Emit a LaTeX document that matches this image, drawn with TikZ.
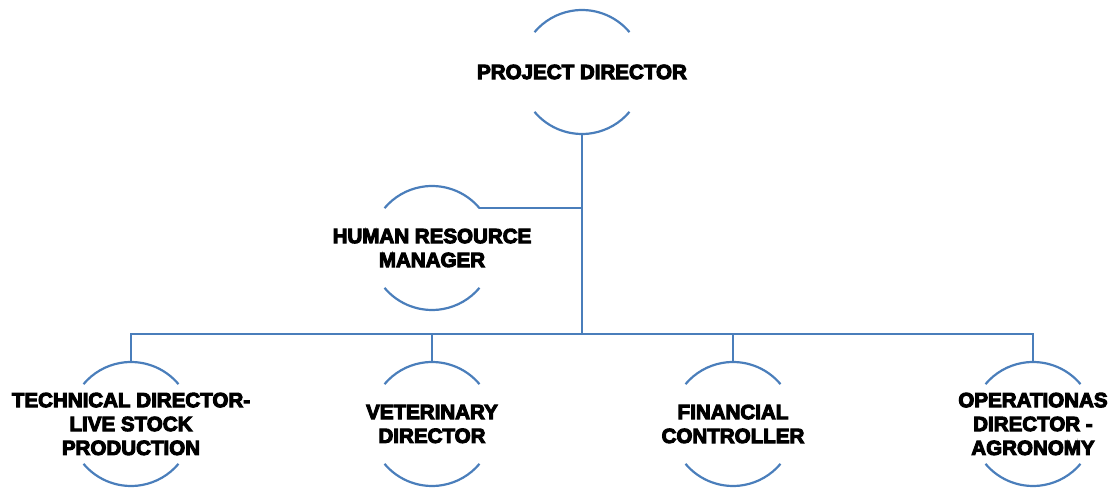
\documentclass[tikz,border=0pt]{standalone}
\usepackage{fontspec}
\usepackage{xcolor}
\newfontfamily\heavy{Liberation Sans}[BoldFeatures={FakeBold=5}]
\definecolor{ringblue}{HTML}{4A7EBB}
\usetikzlibrary{positioning}

% two open arcs round a label, plus handy coordinates
\newcommand{\bubble}[1]{%
  \draw[ring] (#1.center) ++(40:\rr) coordinate (#1-ne) arc[start angle=40, end angle=140, radius=\rr];
  \draw[ring] (#1.center) ++(220:\rr) arc[start angle=220, end angle=320, radius=\rr];
  \path (#1.center) ++(0,\rr) coordinate (#1-top);
  \path (#1.center) ++(0,-\rr) coordinate (#1-bot);
}
\def\rr{62}

\begin{document}
\begin{tikzpicture}[
			x=0.02cm, y=0.02cm,
			ring/.style={draw=ringblue, line width=1.25pt},
			link/.style={draw=ringblue, line width=1.25pt},
			role/.style={align=center, inner sep=0pt, font=\heavy\bfseries\fontsize{11.7}{13.6}\selectfont}
			]
			\useasboundingbox (0,-489) rectangle (1113,0);
			
			\node[role] (pd) at (582,-72) {PROJECT DIRECTOR};
			\node[role] (hr) at (432,-248) {HUMAN RESOURCE\\MANAGER};
			\node[role] (tech) at (131,-424) {TECHNICAL DIRECTOR-\\LIVE STOCK\\PRODUCTION};
			\node[role] (vet) at (432,-424) {VETERINARY\\DIRECTOR};
			\node[role] (fin) at (733,-424) {FINANCIAL\\CONTROLLER};
			\node[role] (ops) at (1033,-424) {OPERATIONAS\\DIRECTOR -\\AGRONOMY};
			
			\bubble{pd}
			\bubble{hr}
			\bubble{tech}
			\bubble{vet}
			\bubble{fin}
			\bubble{ops}
			
			\coordinate (bus) at (582,-334);
			\draw[link] (pd-bot) -- (bus);
			\draw[link] (hr-ne) -- (hr-ne -| pd-bot);
			\draw[link] (tech-top) |- (bus) -| (ops-top);
			\draw[link] (vet-top) -- (vet-top |- bus);
			\draw[link] (fin-top) -- (fin-top |- bus);
		\end{tikzpicture}
\end{document}
